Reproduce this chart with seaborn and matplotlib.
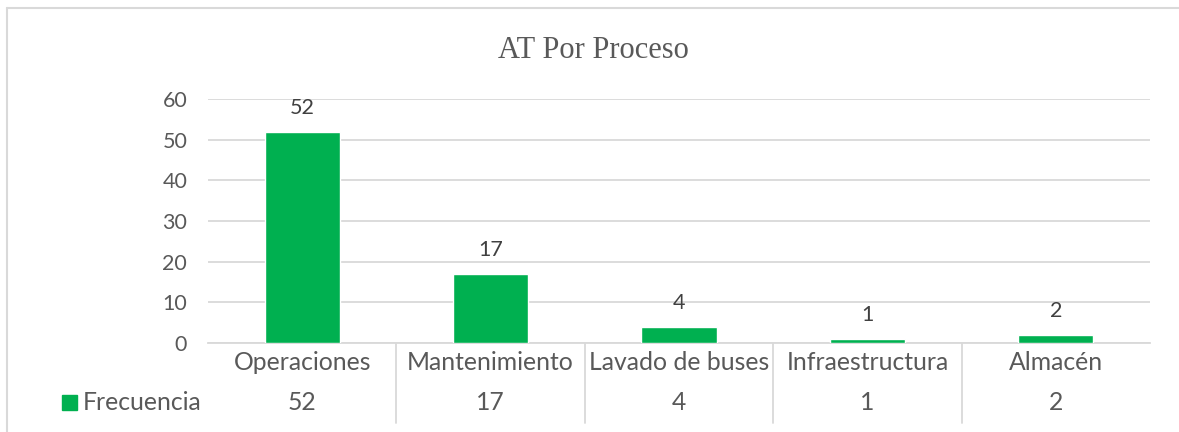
import matplotlib
matplotlib.use("Agg")
import matplotlib.pyplot as plt
import matplotlib.transforms as mtransforms
from matplotlib.lines import Line2D
from matplotlib.patches import Rectangle
import seaborn as sns
import pandas as pd

# data
procesos = ["Operaciones", "Mantenimiento", "Lavado de buses", "Infraestructura", "Almacén"]
frecuencia = [52, 17, 4, 1, 2]
y_ticks = [0, 10, 20, 30, 40, 50, 60]
serie = "Frecuencia"
titulo = "AT Por Proceso"

verde = "#00B050"
gris_txt = "#595959"
gris_lin = "#D9D9D9"

sns.set_theme(style="white")
plt.rcParams["font.family"] = ["Lato", "DejaVu Sans"]

W, H = 1179, 432
fig = plt.figure(figsize=(W / 100, H / 100), dpi=100)
fig.patch.set_facecolor("white")

# plot area in pixels: x 208..1150, y 99..343
x0, x1, ytop, ybot = 208, 1150, 99, 343
ax = fig.add_axes([x0 / W, 1 - ybot / H, (x1 - x0) / W, (ybot - ytop) / H])

df = pd.DataFrame({"proceso": procesos, "frecuencia": frecuencia})
sns.barplot(data=df, x="proceso", y="frecuencia", color=verde, saturation=1,
            width=0.4, ax=ax, zorder=3)

ax.set_xlim(-0.5, len(procesos) - 0.5)
ax.set_ylim(0, 60)
ax.set_yticks(y_ticks)
ax.set_yticklabels([str(v) for v in y_ticks], fontsize=15.5, color=gris_txt)
ax.tick_params(axis="y", length=0, pad=15)
ax.set_xticks([])
ax.set_xlabel("")
ax.set_ylabel("")
ax.grid(axis="y", color=gris_lin, linewidth=1.3, zorder=0)
for s in ["top", "right", "left"]:
    ax.spines[s].set_visible(False)
ax.spines["bottom"].set_color(gris_lin)
ax.spines["bottom"].set_linewidth(1.3)

# data labels
for i, v in enumerate(frecuencia):
    ax.annotate(str(v), (i, v), xytext=(0, 10), textcoords="offset points",
                ha="center", va="bottom", fontsize=15.5, color="#404040")

# data table under the axis
trans = mtransforms.blended_transform_factory(ax.transData, ax.transAxes)
px = 1.0 / (ybot - ytop)
y_cat = -(363 - ybot) * px
y_val = -(402 - ybot) * px
y_end = -(423 - ybot) * px
for i, (p, v) in enumerate(zip(procesos, frecuencia)):
    ax.text(i, y_cat, p, transform=trans, ha="center", va="center",
            fontsize=17.8, color=gris_txt, clip_on=False)
    ax.text(i, y_val, str(v), transform=trans, ha="center", va="center",
            fontsize=17.8, color=gris_txt, clip_on=False)
for i in range(len(procesos) - 1):
    ax.add_line(Line2D([i + 0.5, i + 0.5], [0, y_end], transform=trans,
                       color=gris_lin, linewidth=1.3, clip_on=False))

# legend key for the table row
fig.add_artist(Rectangle((62 / W, 1 - 410 / H), 15 / W, 15 / H,
                         transform=fig.transFigure, color=verde))
fig.text(83 / W, 1 - 402 / H, serie, ha="left", va="center",
         fontsize=17.8, color=gris_txt)

# title
fig.text(593 / W, 1 - 50 / H, titulo, ha="center", va="center",
         fontsize=22, color=gris_txt, family=["Liberation Serif", "DejaVu Serif"])

# chart border (top and left visible)
fig.add_artist(Line2D([7 / W, 1], [1 - 8 / H, 1 - 8 / H], transform=fig.transFigure,
                      color=gris_lin, linewidth=1.5))
fig.add_artist(Line2D([7 / W, 7 / W], [0, 1 - 8 / H], transform=fig.transFigure,
                      color=gris_lin, linewidth=1.5))

fig.savefig("out.png", dpi=100)
